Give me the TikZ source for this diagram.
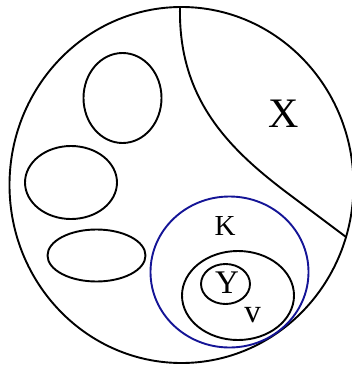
\documentclass[tikz,border=0pt]{standalone}
\usepackage{fontspec}
\setmainfont{Liberation Serif}
\definecolor{navy}{RGB}{20,20,150}
\begin{document}
\begin{tikzpicture}[x=1pt,y=-1pt,
  ln/.style={line width=1.9pt,black},
  lbl/.style={inner sep=0pt,text=black}]
\useasboundingbox (0,0) rectangle (351,369);
\draw[ln] (181.5,185) ellipse [x radius=172, y radius=178];
\coordinate (dtop) at (180,7);
\coordinate (dmid) at (290,195);
\coordinate (dend) at (346,237);
\draw[ln] (dtop) .. controls (178,100) and (230,150) .. (dmid) -- (dend);
\draw[ln] (122.5,98) ellipse [x radius=39, y radius=45];
\draw[ln] (71,182.5) ellipse [x radius=46, y radius=36.5];
\draw[ln] (96.5,255.5) ellipse [x radius=49, y radius=26];
\draw[line width=1.9pt,navy] (229.5,272) ellipse [x radius=79, y radius=75.5];
\draw[ln] (238,295.5) ellipse [x radius=56, y radius=44.5];
\draw[ln] (225.5,284) ellipse [x radius=24.5, y radius=20];
\node[lbl] (x) at (284,114) {\fontsize{42}{42}\selectfont X};
\node[lbl] (k) at (225,226.5) {\fontsize{29}{29}\selectfont K};
\node[lbl] (y) at (227,282.5) {\fontsize{33}{33}\selectfont Y};
\node[lbl] (v) at (252.5,315.5) {\fontsize{33}{33}\selectfont v};
\end{tikzpicture}
\end{document}
